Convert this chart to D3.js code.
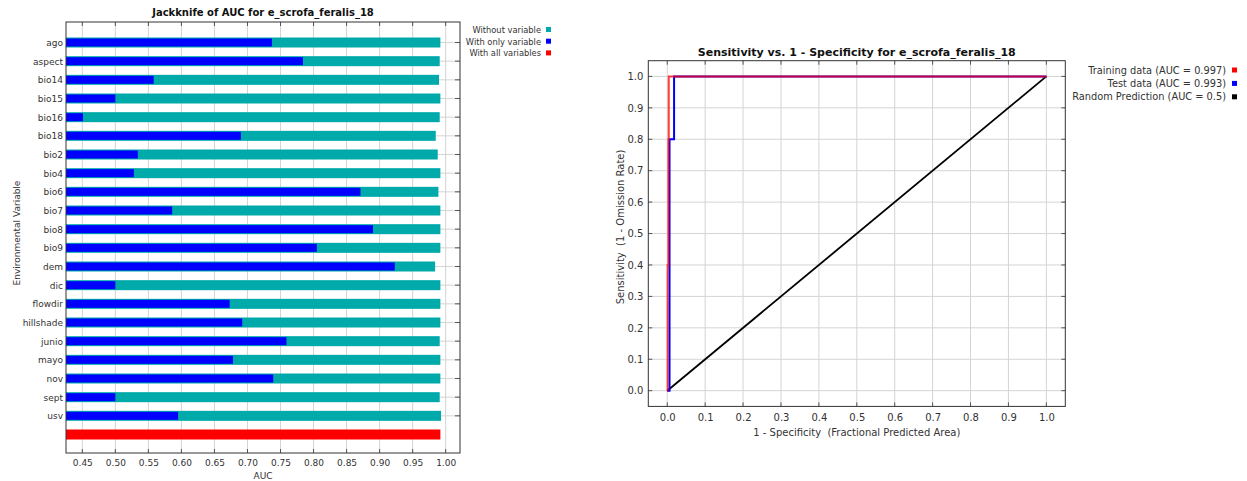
<!DOCTYPE html>
<html lang="en">
<head>
    <meta charset="UTF-8">
    <title>Jackknife and ROC for e_scrofa_feralis_18</title>
    <style>
        body {
            margin: 0;
            padding: 0;
            background-color: white;
        }
        svg text {
            font-family: "DejaVu Sans", sans-serif;
            fill: #333;
        }
        .title {
            font-size: 10px;
            font-weight: bold;
            fill: #111;
        }
        .tick text, .label {
            font-size: 9px;
        }
        .legend text {
            font-size: 8.3px;
        }
        .roc .tick text, .roc .label {
            font-size: 10px;
        }
        .roc .title {
            font-size: 11px;
        }
        .roc .legend text {
            font-size: 9.8px;
        }
        .grid {
            stroke: #d4d4d4;
            stroke-width: 1px;
        }
        .frame {
            fill: none;
            stroke: #333;
            stroke-width: 1px;
        }
        .mark {
            stroke: #555;
            stroke-width: 1px;
        }
    </style>
</head>
<body>
    <svg id="chart" width="1247" height="481"></svg>

    <script src="https://d3js.org/d3.v7.min.js"></script>
    <script>
        // jackknife data (AUC)
        const variables = ["ago", "aspect", "bio14", "bio15", "bio16", "bio18", "bio2", "bio4", "bio6", "bio7",
            "bio8", "bio9", "dem", "dic", "flowdir", "hillshade", "junio", "mayo", "nov", "sept", "usv"];
        const withoutVariable = [0.992, 0.991, 0.990, 0.992, 0.991, 0.985, 0.988, 0.992, 0.989, 0.992,
            0.992, 0.992, 0.984, 0.992, 0.992, 0.992, 0.991, 0.992, 0.992, 0.991, 0.993];
        const withOnlyVariable = [0.737, 0.784, 0.558, 0.500, 0.451, 0.690, 0.534, 0.528, 0.871, 0.586,
            0.890, 0.805, 0.923, 0.500, 0.673, 0.692, 0.759, 0.678, 0.739, 0.500, 0.595];
        const withAllVariables = 0.992;
        const aucTicks = [0.45, 0.50, 0.55, 0.60, 0.65, 0.70, 0.75, 0.80, 0.85, 0.90, 0.95, 1.00];
        const jackLegend = ["Without variable", "With only variable", "With all variables"];
        const jackColors = ["#00aaaa", "#0000ff", "#ff0000"];

        // ROC data
        const rocTicks = [0.0, 0.1, 0.2, 0.3, 0.4, 0.5, 0.6, 0.7, 0.8, 0.9, 1.0];
        const trainX = [0, 0.001, 0.001, 0.003, 0.003, 0.004, 0.004, 1];
        const trainY = [0, 0, 0.4, 0.4, 0.8, 0.8, 1, 1];
        const testX = [0, 0.006, 0.006, 0.018, 0.018, 1];
        const testY = [0, 0, 0.8, 0.8, 1, 1];
        const randomX = [0, 1];
        const randomY = [0, 1];
        const rocLegend = ["Training data (AUC = 0.997)", "Test data (AUC = 0.993)", "Random Prediction (AUC = 0.5)"];
        const rocColors = ["#ff0000", "#0000ff", "#000000"];

        const svg = d3.select('#chart');

        // ---------- jackknife chart ----------
        const jk = { left: 66, right: 460, top: 22, bottom: 453 };
        const rows = variables.concat(["__all"]);

        const x1 = d3.scaleLinear().domain([0.4253, 1.0217]).range([jk.left, jk.right]);
        const y1 = d3.scalePoint().domain(rows).range([jk.top + 20.5, jk.bottom - 18.5]);

        const g1 = svg.append('g').attr('class', 'jack');

        g1.selectAll('.vgrid').data(aucTicks).enter().append('line')
            .attr('class', 'grid')
            .attr('x1', d => x1(d)).attr('x2', d => x1(d))
            .attr('y1', jk.top).attr('y2', jk.bottom);

        g1.selectAll('.hgrid').data(variables).enter().append('line')
            .attr('class', 'grid')
            .attr('x1', jk.left).attr('x2', jk.right)
            .attr('y1', d => y1(d)).attr('y2', d => y1(d));

        // without variable (teal)
        g1.selectAll('.without').data(variables).enter().append('rect')
            .attr('x', x1.range()[0])
            .attr('y', d => y1(d) - 5)
            .attr('width', (d, i) => x1(withoutVariable[i]) - x1.range()[0])
            .attr('height', 10)
            .attr('fill', jackColors[0]);

        // with only variable (blue)
        g1.selectAll('.only').data(variables).enter().append('rect')
            .attr('x', x1.range()[0])
            .attr('y', d => y1(d) - 4)
            .attr('width', (d, i) => x1(withOnlyVariable[i]) - x1.range()[0])
            .attr('height', 8)
            .attr('fill', jackColors[1]);

        // with all variables (red)
        g1.append('rect')
            .attr('x', x1.range()[0])
            .attr('y', y1("__all") - 5)
            .attr('width', x1(withAllVariables) - x1.range()[0])
            .attr('height', 10)
            .attr('fill', jackColors[2]);

        // tick marks on top, bottom and right
        g1.selectAll('.ttick').data(aucTicks).enter().append('line')
            .attr('class', 'mark')
            .attr('x1', d => x1(d)).attr('x2', d => x1(d))
            .attr('y1', jk.top).attr('y2', jk.top + 4);
        g1.selectAll('.btick').data(aucTicks).enter().append('line')
            .attr('class', 'mark')
            .attr('x1', d => x1(d)).attr('x2', d => x1(d))
            .attr('y1', jk.bottom).attr('y2', jk.bottom - 4);
        g1.selectAll('.rtick').data(variables).enter().append('line')
            .attr('class', 'mark')
            .attr('x1', jk.right - 5).attr('x2', jk.right)
            .attr('y1', d => y1(d)).attr('y2', d => y1(d));

        g1.append('rect').attr('class', 'frame')
            .attr('x', jk.left).attr('y', jk.top)
            .attr('width', jk.right - jk.left).attr('height', jk.bottom - jk.top);

        g1.append('g')
            .attr('transform', `translate(0,${jk.bottom})`)
            .call(d3.axisBottom(x1).tickValues(aucTicks).tickFormat(d3.format('.2f')).tickSize(0).tickPadding(7))
            .call(g => g.select('.domain').remove());

        g1.append('g')
            .attr('transform', `translate(${jk.left},0)`)
            .call(d3.axisLeft(y1).tickValues(variables).tickSize(0).tickPadding(3))
            .call(g => g.select('.domain').remove());

        g1.append('text').attr('class', 'title')
            .attr('x', (jk.left + jk.right) / 2).attr('y', 16)
            .attr('text-anchor', 'middle')
            .text('Jackknife of AUC for e_scrofa_feralis_18');

        g1.append('text').attr('class', 'label')
            .attr('x', (jk.left + jk.right) / 2).attr('y', 479)
            .attr('text-anchor', 'middle')
            .text('AUC');

        g1.append('text').attr('class', 'label')
            .attr('transform', 'translate(20,233) rotate(-90)')
            .attr('text-anchor', 'middle')
            .text('Environmental Variable');

        const leg1 = g1.append('g').attr('class', 'legend');
        jackLegend.forEach((name, i) => {
            leg1.append('text')
                .attr('x', 541).attr('y', 33 + i * 11.7)
                .attr('text-anchor', 'end')
                .text(name);
            leg1.append('rect')
                .attr('x', 546).attr('y', 27 + i * 11.7)
                .attr('width', 5).attr('height', 5)
                .attr('fill', jackColors[i]);
        });

        // ---------- ROC chart ----------
        const rc = { left: 648.3, right: 1065.3, top: 60.7, bottom: 406.4 };
        const x2 = d3.scaleLinear().domain([-0.05, 1.05]).range([rc.left, rc.right]);
        const y2 = d3.scaleLinear().domain([-0.05, 1.05]).range([rc.bottom, rc.top]);

        const g2 = svg.append('g').attr('class', 'roc');

        g2.selectAll('.vgrid').data(rocTicks).enter().append('line')
            .attr('class', 'grid')
            .attr('x1', d => x2(d)).attr('x2', d => x2(d))
            .attr('y1', rc.top).attr('y2', rc.bottom);
        g2.selectAll('.hgrid').data(rocTicks).enter().append('line')
            .attr('class', 'grid')
            .attr('x1', rc.left).attr('x2', rc.right)
            .attr('y1', d => y2(d)).attr('y2', d => y2(d));

        g2.selectAll('.ttick').data(rocTicks).enter().append('line')
            .attr('class', 'mark')
            .attr('x1', d => x2(d)).attr('x2', d => x2(d))
            .attr('y1', rc.top).attr('y2', rc.top + 4);
        g2.selectAll('.btick').data(rocTicks).enter().append('line')
            .attr('class', 'mark')
            .attr('x1', d => x2(d)).attr('x2', d => x2(d))
            .attr('y1', rc.bottom).attr('y2', rc.bottom - 4);
        g2.selectAll('.ltick').data(rocTicks).enter().append('line')
            .attr('class', 'mark')
            .attr('x1', rc.left).attr('x2', rc.left + 4)
            .attr('y1', d => y2(d)).attr('y2', d => y2(d));
        g2.selectAll('.rtick').data(rocTicks).enter().append('line')
            .attr('class', 'mark')
            .attr('x1', rc.right - 4).attr('x2', rc.right)
            .attr('y1', d => y2(d)).attr('y2', d => y2(d));

        const line = d3.line().x(d => x2(d[0])).y(d => y2(d[1]));

        g2.append('path')
            .datum(randomX.map((v, i) => [v, randomY[i]]))
            .attr('d', line).attr('fill', 'none')
            .attr('stroke', rocColors[2]).attr('stroke-width', 1.8);

        g2.append('path')
            .datum(testX.map((v, i) => [v, testY[i]]))
            .attr('d', line).attr('fill', 'none')
            .attr('stroke', rocColors[1]).attr('stroke-width', 2);

        g2.append('path')
            .datum(trainX.map((v, i) => [v, trainY[i]]))
            .attr('d', line).attr('fill', 'none')
            .attr('stroke', rocColors[0]).attr('stroke-opacity', 0.75).attr('stroke-width', 2);

        g2.append('rect').attr('class', 'frame')
            .attr('x', rc.left).attr('y', rc.top)
            .attr('width', rc.right - rc.left).attr('height', rc.bottom - rc.top);

        g2.append('g')
            .attr('transform', `translate(0,${rc.bottom})`)
            .call(d3.axisBottom(x2).tickValues(rocTicks).tickFormat(d3.format('.1f')).tickSize(0).tickPadding(8))
            .call(g => g.select('.domain').remove());

        g2.append('g')
            .attr('transform', `translate(${rc.left},0)`)
            .call(d3.axisLeft(y2).tickValues(rocTicks).tickFormat(d3.format('.1f')).tickSize(0).tickPadding(5))
            .call(g => g.select('.domain').remove());

        svg.selectAll('.tick text').attr('fill', '#333').attr('font-family', null).attr('font-size', null);

        g2.append('text').attr('class', 'title')
            .attr('x', (rc.left + rc.right) / 2).attr('y', 56)
            .attr('text-anchor', 'middle')
            .text('Sensitivity vs. 1 - Specificity for e_scrofa_feralis_18');

        g2.append('text').attr('class', 'label')
            .attr('x', (rc.left + rc.right) / 2).attr('y', 436)
            .attr('text-anchor', 'middle')
            .style('white-space', 'pre')
            .text('1 - Specificity  (Fractional Predicted Area)');

        g2.append('text').attr('class', 'label')
            .attr('transform', 'translate(623.5,227) rotate(-90)')
            .attr('text-anchor', 'middle')
            .style('white-space', 'pre')
            .text('Sensitivity  (1 - Omission Rate)');

        const leg2 = g2.append('g').attr('class', 'legend');
        rocLegend.forEach((name, i) => {
            leg2.append('text')
                .attr('x', 1226).attr('y', 73.5 + i * 13.4)
                .attr('text-anchor', 'end')
                .text(name);
            leg2.append('rect')
                .attr('x', 1232).attr('y', 67.5 + i * 13.4)
                .attr('width', 5).attr('height', 5)
                .attr('fill', rocColors[i]);
        });
    </script>
</body>
</html>
